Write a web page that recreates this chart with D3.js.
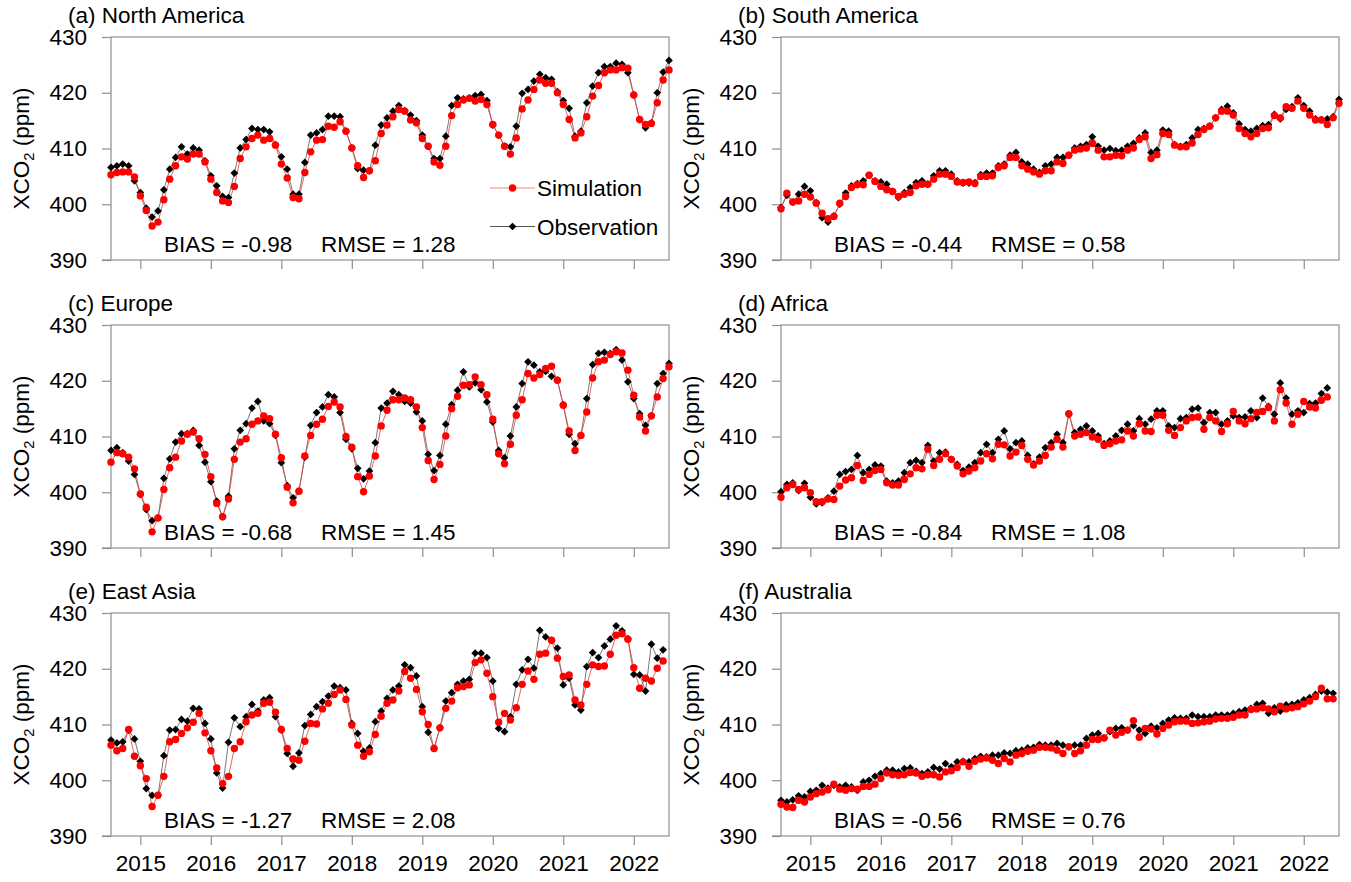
<!DOCTYPE html>
<html>
<head>
<meta charset="utf-8">
<script src="https://cdn.jsdelivr.net/npm/d3@7"></script>
<style>
  body { margin: 0; background: #fff; }
  svg { display: block; font-family: "Liberation Sans", Arial, Helvetica, sans-serif; }
</style>
</head>
<body>
<div id="chart"></div>
<script>
// monthly series start Aug 2014
const startYear = 2014, startMonth = 8
const yearTicks = [2015, 2016, 2017, 2018, 2019, 2020, 2021, 2022]
const yearLabels = ["2015", "2016", "2017", "2018", "2019", "2020", "2021", "2022"]
const yTicks = [390, 400, 410, 420, 430]

const obsNA = [406.6, 406.9, 407.2, 406.9, 404.2, 402.1, 399.3, 397.7, 398.8, 402.6,
  406.3, 408.4, 410.3, 409.0, 410.1, 409.7, 407.8, 405.1, 403.3, 401.4,
  401.2, 405.6, 410.1, 411.6, 413.6, 413.4, 413.4, 413.0, 410.7, 408.5,
  406.3, 401.8, 401.8, 407.5, 412.4, 412.8, 413.4, 415.8, 415.8, 415.7,
  413.1, 410.1, 406.4, 406.1, 406.0, 410.6, 414.2, 415.5, 416.7, 417.7,
  416.8, 416.0, 415.0, 412.4, 410.4, 408.2, 408.2, 412.2, 417.7, 419.1,
  418.9, 419.1, 419.5, 419.7, 418.6, 414.2, 412.4, 410.4, 410.3, 414.0,
  419.9, 420.6, 422.1, 423.3, 422.7, 422.4, 420.2, 418.6, 417.2, 412.2,
  413.1, 418.2, 421.2, 423.6, 424.7, 424.7, 425.3, 425.1, 423.6, 419.6,
  415.2, 413.7, 414.6, 420.0, 423.7, 425.8]
const simNA = [405.3, 405.7, 405.8, 405.8, 404.9, 401.5, 398.9, 396.1, 396.8, 400.8,
  404.5, 406.9, 408.5, 408.1, 409.0, 409.0, 407.6, 404.5, 402.1, 400.6,
  400.3, 403.2, 408.2, 410.3, 411.8, 412.4, 411.5, 411.8, 410.6, 407.2,
  404.7, 401.2, 401.0, 405.7, 409.4, 411.5, 411.6, 414.0, 413.8, 414.8,
  413.1, 410.1, 406.9, 404.8, 406.0, 407.8, 412.7, 414.2, 415.7, 417.0,
  416.7, 415.1, 414.6, 411.8, 410.4, 407.6, 407.0, 410.4, 415.9, 417.9,
  418.7, 419.0, 418.5, 418.8, 417.9, 414.3, 412.4, 410.4, 409.0, 411.9,
  417.1, 418.7, 420.6, 422.3, 421.7, 421.7, 420.0, 417.9, 415.2, 411.9,
  412.8, 415.7, 419.4, 421.3, 423.6, 424.1, 424.1, 424.5, 424.4, 419.6,
  415.2, 414.3, 414.5, 418.2, 422.3, 424.1]

const obsSA = [399.4, 401.6, 400.4, 401.8, 403.2, 402.4, 400.3, 397.6, 396.8, 397.9,
  400.0, 402.0, 403.3, 403.7, 404.2, 405.2, 404.2, 404.0, 403.6, 402.3,
  401.2, 402.1, 403.0, 403.9, 404.2, 403.6, 405.1, 406.0, 406.0, 405.4,
  404.2, 403.8, 403.8, 403.9, 405.3, 405.6, 405.6, 406.9, 407.2, 408.8,
  409.3, 407.6, 407.2, 406.3, 405.7, 406.9, 407.2, 408.4, 408.4, 408.8,
  410.1, 410.4, 410.7, 412.1, 410.4, 409.7, 410.0, 409.6, 409.7, 410.4,
  410.9, 411.9, 412.8, 409.3, 409.7, 413.3, 413.1, 410.7, 410.4, 410.7,
  411.9, 413.4, 413.6, 414.0, 415.5, 417.0, 417.6, 416.4, 414.4, 413.4,
  413.1, 413.6, 414.1, 414.3, 416.1, 415.3, 417.0, 417.5, 419.1, 417.7,
  416.7, 415.3, 415.2, 415.3, 415.7, 418.8]
const simSA = [399.2, 402.0, 400.4, 400.6, 401.8, 401.3, 400.2, 398.4, 397.4, 397.8,
  400.2, 401.4, 403.0, 403.5, 403.5, 405.2, 404.1, 403.2, 402.6, 402.3,
  401.4, 401.8, 402.1, 403.3, 403.6, 403.6, 404.5, 405.4, 405.4, 405.0,
  404.0, 403.9, 404.0, 403.7, 405.0, 405.0, 405.1, 406.6, 406.9, 408.4,
  408.4, 406.9, 406.3, 405.8, 405.4, 406.0, 406.0, 407.6, 407.3, 408.8,
  409.7, 409.9, 410.1, 410.9, 409.7, 408.5, 408.5, 408.8, 408.7, 409.7,
  410.1, 411.6, 412.1, 408.2, 408.9, 412.7, 412.5, 410.6, 410.3, 410.3,
  411.0, 412.5, 413.4, 414.0, 415.5, 416.7, 416.7, 416.0, 413.6, 412.7,
  412.1, 412.7, 413.6, 413.7, 415.9, 415.5, 417.5, 417.2, 418.5, 417.2,
  416.0, 415.1, 415.1, 414.3, 415.5, 418.1]

const obsEU = [407.5, 408.0, 407.1, 405.6, 403.2, 399.6, 396.9, 394.9, 395.4, 402.5,
  406.0, 409.0, 410.5, 410.5, 411.1, 408.4, 405.4, 401.9, 398.4, 395.6,
  399.3, 407.8, 411.1, 412.3, 415.1, 416.3, 412.8, 412.3, 410.2, 405.3,
  401.2, 399.0, 400.2, 406.3, 412.0, 414.3, 415.3, 417.5, 417.1, 414.3,
  409.5, 407.8, 404.3, 402.4, 403.8, 408.9, 415.1, 416.0, 418.1, 417.5,
  416.3, 416.0, 414.4, 412.8, 406.8, 403.9, 406.6, 412.2, 415.7, 418.3,
  421.6, 418.9, 419.6, 418.4, 416.2, 412.6, 407.5, 406.2, 410.1, 415.3,
  419.5, 423.4, 422.8, 421.6, 421.7, 420.8, 420.1, 415.7, 410.4, 408.7,
  410.2, 416.8, 422.9, 424.9, 425.1, 424.9, 425.6, 423.7, 419.8, 416.8,
  414.1, 412.0, 413.7, 419.5, 421.3, 423.1]
const simEU = [405.4, 407.1, 406.9, 406.3, 404.2, 399.7, 397.3, 392.9, 395.4, 400.5,
  404.4, 406.3, 409.2, 410.4, 410.8, 409.6, 406.8, 402.8, 398.0, 395.6,
  398.8, 405.9, 409.0, 409.6, 412.2, 412.8, 413.7, 413.2, 410.4, 406.2,
  400.9, 398.1, 400.2, 406.5, 410.2, 412.2, 413.1, 415.4, 416.2, 415.3,
  410.0, 408.1, 402.8, 400.1, 402.9, 406.5, 411.9, 414.7, 416.6, 416.6,
  416.9, 416.6, 415.3, 411.6, 405.7, 402.3, 405.0, 410.1, 415.0, 417.2,
  419.2, 419.3, 420.7, 419.3, 417.5, 413.1, 406.9, 405.1, 408.6, 413.8,
  416.6, 421.3, 420.5, 421.1, 422.2, 422.6, 420.1, 415.6, 411.0, 407.5,
  410.2, 414.4, 420.5, 423.4, 423.7, 424.7, 425.2, 425.0, 421.9, 417.4,
  413.5, 411.0, 413.7, 417.1, 420.4, 422.5]

const obsAF = [400.1, 401.4, 401.7, 400.3, 401.6, 399.1, 397.9, 398.1, 399.0, 400.2,
  403.2, 403.7, 404.1, 406.6, 403.5, 404.1, 404.9, 404.7, 402.0, 401.7,
  402.0, 403.5, 405.3, 405.7, 405.3, 408.4, 405.6, 407.1, 407.2, 405.9,
  405.0, 403.9, 404.5, 405.3, 407.1, 408.6, 407.1, 409.5, 411.0, 407.8,
  408.9, 409.2, 406.6, 405.1, 406.3, 408.0, 408.9, 410.4, 408.9, 414.0,
  410.7, 411.3, 411.9, 411.0, 410.1, 408.7, 409.2, 410.1, 411.1, 412.2,
  411.0, 413.2, 412.2, 413.1, 414.6, 414.6, 411.9, 411.6, 413.2, 413.4,
  414.9, 415.1, 412.5, 414.3, 414.3, 412.2, 412.8, 413.7, 413.4, 413.5,
  414.6, 413.4, 416.9, 415.4, 414.0, 419.6, 416.9, 414.0, 414.6, 414.3,
  415.9, 416.0, 417.7, 418.7]
const simAF = [399.1, 400.8, 401.4, 400.5, 400.8, 399.9, 398.3, 398.3, 398.8, 398.7,
  401.1, 402.2, 402.6, 404.8, 402.1, 403.2, 403.9, 404.1, 401.7, 401.3,
  401.3, 402.3, 403.3, 404.4, 404.2, 407.7, 404.8, 405.9, 406.9, 405.9,
  404.7, 403.3, 403.8, 404.4, 405.6, 406.9, 406.0, 408.6, 408.5, 406.5,
  407.2, 408.4, 405.9, 404.9, 405.6, 406.6, 408.1, 409.5, 408.1, 414.1,
  410.1, 410.4, 410.7, 409.9, 409.5, 408.4, 408.7, 409.2, 409.4, 411.0,
  410.1, 412.3, 411.0, 410.9, 413.8, 413.8, 411.1, 410.2, 411.6, 412.8,
  413.4, 413.5, 411.3, 413.4, 412.8, 410.9, 412.3, 414.5, 412.8, 412.3,
  413.2, 414.3, 414.5, 415.2, 412.8, 418.4, 416.0, 412.2, 414.0, 416.3,
  415.3, 415.1, 416.5, 417.1]

const obsEA = [407.2, 406.7, 406.9, 409.0, 407.4, 403.4, 398.5, 397.3, 397.3, 404.4,
  409.0, 409.1, 410.9, 410.6, 412.9, 412.8, 410.2, 407.4, 401.3, 398.6,
  406.8, 411.2, 409.6, 411.4, 413.6, 412.4, 414.4, 414.8, 411.4, 409.0,
  404.8, 402.5, 404.9, 409.8, 411.8, 413.2, 414.1, 415.1, 416.9, 416.6,
  416.2, 410.2, 408.4, 405.2, 405.8, 410.5, 412.4, 414.7, 416.2, 416.9,
  420.7, 420.2, 418.7, 413.2, 408.6, 405.7, 409.4, 414.2, 415.7, 417.2,
  417.8, 418.1, 422.8, 422.8, 422.0, 417.8, 409.3, 408.7, 411.4, 417.2,
  419.8, 421.7, 420.1, 426.9, 425.7, 425.1, 423.7, 417.1, 418.3, 413.5,
  412.6, 420.4, 422.9, 422.0, 424.1, 425.3, 427.7, 426.8, 425.4, 419.0,
  418.9, 416.0, 424.4, 421.9, 423.4]
const simEA = [406.3, 405.3, 405.7, 409.1, 404.3, 402.6, 400.3, 395.3, 397.3, 400.7,
  406.9, 407.3, 408.4, 409.4, 410.4, 412.0, 408.5, 405.3, 402.2, 399.4,
  400.7, 405.7, 406.9, 410.5, 411.7, 412.0, 413.8, 414.0, 412.2, 409.1,
  405.7, 403.8, 403.6, 407.0, 410.2, 410.1, 412.8, 413.8, 415.4, 416.2,
  414.5, 409.9, 406.3, 404.3, 405.1, 408.2, 411.5, 413.8, 414.4, 416.0,
  419.5, 418.3, 416.3, 412.3, 410.0, 405.7, 409.4, 412.9, 414.2, 416.6,
  416.8, 417.1, 421.1, 421.6, 419.2, 415.0, 410.4, 412.0, 410.8, 413.0,
  417.2, 419.6, 418.1, 422.6, 422.8, 425.1, 421.9, 418.6, 418.9, 414.4,
  413.5, 417.2, 420.7, 420.4, 420.5, 422.6, 426.0, 426.3, 425.3, 420.2,
  416.5, 418.3, 417.8, 420.1, 421.4]

const obsAU = [396.4, 396.1, 396.5, 397.2, 397.0, 398.0, 398.2, 399.1, 398.6, 399.1,
  398.8, 399.1, 398.8, 398.2, 399.7, 400.0, 400.7, 401.2, 401.8, 401.8,
  401.5, 402.1, 402.2, 401.6, 401.2, 401.5, 402.3, 402.0, 403.0, 402.4,
  403.3, 403.4, 403.3, 403.9, 404.3, 404.2, 404.5, 404.5, 404.9, 404.8,
  405.3, 405.4, 405.8, 405.9, 406.4, 406.3, 406.3, 406.6, 406.3, 406.0,
  406.3, 406.3, 407.5, 408.1, 408.4, 407.6, 408.7, 409.3, 409.4, 409.0,
  409.8, 409.0, 408.4, 409.7, 409.4, 410.2, 410.8, 411.2, 411.1, 411.1,
  411.7, 411.4, 411.4, 411.4, 411.7, 411.7, 411.7, 412.0, 412.3, 412.6,
  412.9, 413.6, 413.8, 412.0, 413.0, 412.4, 413.5, 413.6, 413.9, 414.4,
  414.8, 415.4, 416.0, 415.8, 415.6]
const simAU = [395.7, 395.2, 395.1, 396.4, 396.1, 397.0, 397.6, 397.9, 398.3, 399.3,
  398.4, 398.2, 398.5, 398.4, 398.9, 398.9, 399.3, 400.3, 401.3, 401.0,
  400.9, 401.0, 401.4, 401.3, 400.7, 401.0, 401.0, 400.6, 401.5, 401.7,
  402.3, 403.3, 402.5, 403.4, 403.8, 404.0, 403.6, 403.0, 403.9, 403.3,
  404.5, 404.8, 405.2, 405.4, 405.9, 405.9, 405.8, 405.4, 404.8, 406.0,
  404.8, 405.3, 406.3, 407.3, 407.3, 407.6, 409.0, 408.1, 408.6, 409.0,
  410.7, 407.7, 409.3, 409.2, 408.3, 409.3, 409.9, 410.5, 410.6, 410.6,
  410.2, 410.3, 410.5, 410.6, 411.0, 411.1, 411.1, 411.3, 411.7, 411.7,
  412.7, 412.8, 413.0, 412.8, 412.3, 413.3, 412.8, 413.0, 413.2, 413.7,
  414.2, 415.0, 416.5, 414.6, 414.6]

const panels = [
  { title: "(a) North America", obs: obsNA, sim: simNA, bias: "-0.98", rmse: "1.28", col: 0, row: 0, legend: true },
  { title: "(b) South America", obs: obsSA, sim: simSA, bias: "-0.44", rmse: "0.58", col: 1, row: 0 },
  { title: "(c) Europe", obs: obsEU, sim: simEU, bias: "-0.68", rmse: "1.45", col: 0, row: 1 },
  { title: "(d) Africa", obs: obsAF, sim: simAF, bias: "-0.84", rmse: "1.08", col: 1, row: 1 },
  { title: "(e) East Asia", obs: obsEA, sim: simEA, bias: "-1.27", rmse: "2.08", col: 0, row: 2 },
  { title: "(f) Australia", obs: obsAU, sim: simAU, bias: "-0.56", rmse: "0.76", col: 1, row: 2 }
]

const width = 1351, height = 882
const colX = [111, 781], rowY = [37, 325, 613]
const plotW = 558, plotH = 223
const fs = 22.5
const axisGrey = "#8f8f8f"

// decimal year of month i
const tOf = i => startYear + (startMonth - 1 + i) / 12

const x = d3.scaleLinear()
  .domain([tOf(0), tOf(95)])
  .range([0, plotW])

const y = d3.scaleLinear()
  .domain([390, 430])
  .range([plotH, 0])

const svg = d3.select("#chart")
  .append("svg")
  .attr("width", width)
  .attr("height", height)

const diamond = d3.symbol().type(d3.symbolSquare).size(30)

panels.forEach(p => {
  const g = svg.append("g")
    .attr("transform", `translate(${colX[p.col]},${rowY[p.row]})`)

  // frame
  g.append("rect")
    .attr("x", 0).attr("y", 0)
    .attr("width", plotW).attr("height", plotH)
    .attr("fill", "none")
    .attr("stroke", axisGrey)
    .attr("stroke-width", 1.2)

  g.append("line")
    .attr("x1", -9).attr("x2", 0)
    .attr("y1", plotH).attr("y2", plotH)
    .attr("stroke", axisGrey).attr("stroke-width", 1.2)

  // y axis
  g.append("g")
    .call(d3.axisLeft(y).tickValues(yTicks).tickSize(9).tickPadding(15).tickFormat(d3.format("d")))
    .call(a => a.select(".domain").remove())
    .call(a => a.selectAll(".tick line").attr("stroke", axisGrey).attr("stroke-width", 1.2))
    .call(a => a.selectAll(".tick text")
      .attr("fill", "#000")
      .attr("font-size", fs)
      .attr("font-family", "Liberation Sans, Arial, sans-serif"))

  // x axis
  g.append("g")
    .attr("transform", `translate(0,${plotH})`)
    .call(d3.axisBottom(x).tickValues(yearTicks).tickSize(9).tickPadding(10)
      .tickFormat((d, i) => p.row === 2 ? yearLabels[i] : ""))
    .call(a => a.select(".domain").remove())
    .call(a => a.selectAll(".tick line").attr("stroke", axisGrey).attr("stroke-width", 1.2))
    .call(a => a.selectAll(".tick text")
      .attr("fill", "#000")
      .attr("font-size", fs)
      .attr("font-family", "Liberation Sans, Arial, sans-serif"))

  // y label
  const yl = g.append("text")
    .attr("transform", `translate(${-82},${plotH / 2}) rotate(-90)`)
    .attr("text-anchor", "middle")
    .attr("font-size", fs)
  yl.append("tspan").text("XCO")
  yl.append("tspan").attr("font-size", fs * 0.65).attr("dy", 5).text("2")
  yl.append("tspan").attr("dy", -5).text(" (ppm)")

  // title
  g.append("text")
    .attr("x", -43)
    .attr("y", -14)
    .attr("font-size", fs)
    .text(p.title)

  const obsPts = p.obs.map((v, i) => [x(tOf(i)), y(v)])
  const simPts = p.sim.map((v, i) => [x(tOf(i)), y(v)])

  g.append("path")
    .attr("d", d3.line()(obsPts))
    .attr("fill", "none")
    .attr("stroke", "#555")
    .attr("stroke-width", 0.8)

  g.append("path")
    .attr("d", d3.line()(simPts))
    .attr("fill", "none")
    .attr("stroke", "#e23b3b")
    .attr("stroke-width", 0.8)

  g.append("g")
    .selectAll("path")
    .data(obsPts)
    .join("path")
    .attr("d", diamond)
    .attr("transform", d => `translate(${d[0]},${d[1]}) rotate(45)`)
    .attr("fill", "#000")

  g.append("g")
    .selectAll("circle")
    .data(simPts)
    .join("circle")
    .attr("cx", d => d[0])
    .attr("cy", d => d[1])
    .attr("r", 3.7)
    .attr("fill", "#f00")

  // stats
  g.append("text")
    .attr("x", 53)
    .attr("y", plotH - 8)
    .attr("font-size", fs)
    .text(`BIAS = ${p.bias}`)
  g.append("text")
    .attr("x", 210)
    .attr("y", plotH - 8)
    .attr("font-size", fs)
    .text(`RMSE = ${p.rmse}`)

  if (p.legend) {
    const items = [
      { name: "Simulation", line: "#e88", dy: 151 },
      { name: "Observation", line: "#555", dy: 189.5 }
    ]
    const lg = g.append("g").attr("transform", "translate(379,0)")
    items.forEach(it => {
      lg.append("line")
        .attr("x1", 0).attr("x2", 45)
        .attr("y1", it.dy).attr("y2", it.dy)
        .attr("stroke", it.line).attr("stroke-width", 1)
      if (it.name === "Simulation") {
        lg.append("circle").attr("cx", 22.5).attr("cy", it.dy).attr("r", 3.7).attr("fill", "#f00")
      } else {
        lg.append("path").attr("d", diamond)
          .attr("transform", `translate(22.5,${it.dy}) rotate(45)`).attr("fill", "#000")
      }
      lg.append("text")
        .attr("x", 47)
        .attr("y", it.dy + 8)
        .attr("font-size", fs)
        .text(it.name)
    })
  }
})
</script>
</body>
</html>
